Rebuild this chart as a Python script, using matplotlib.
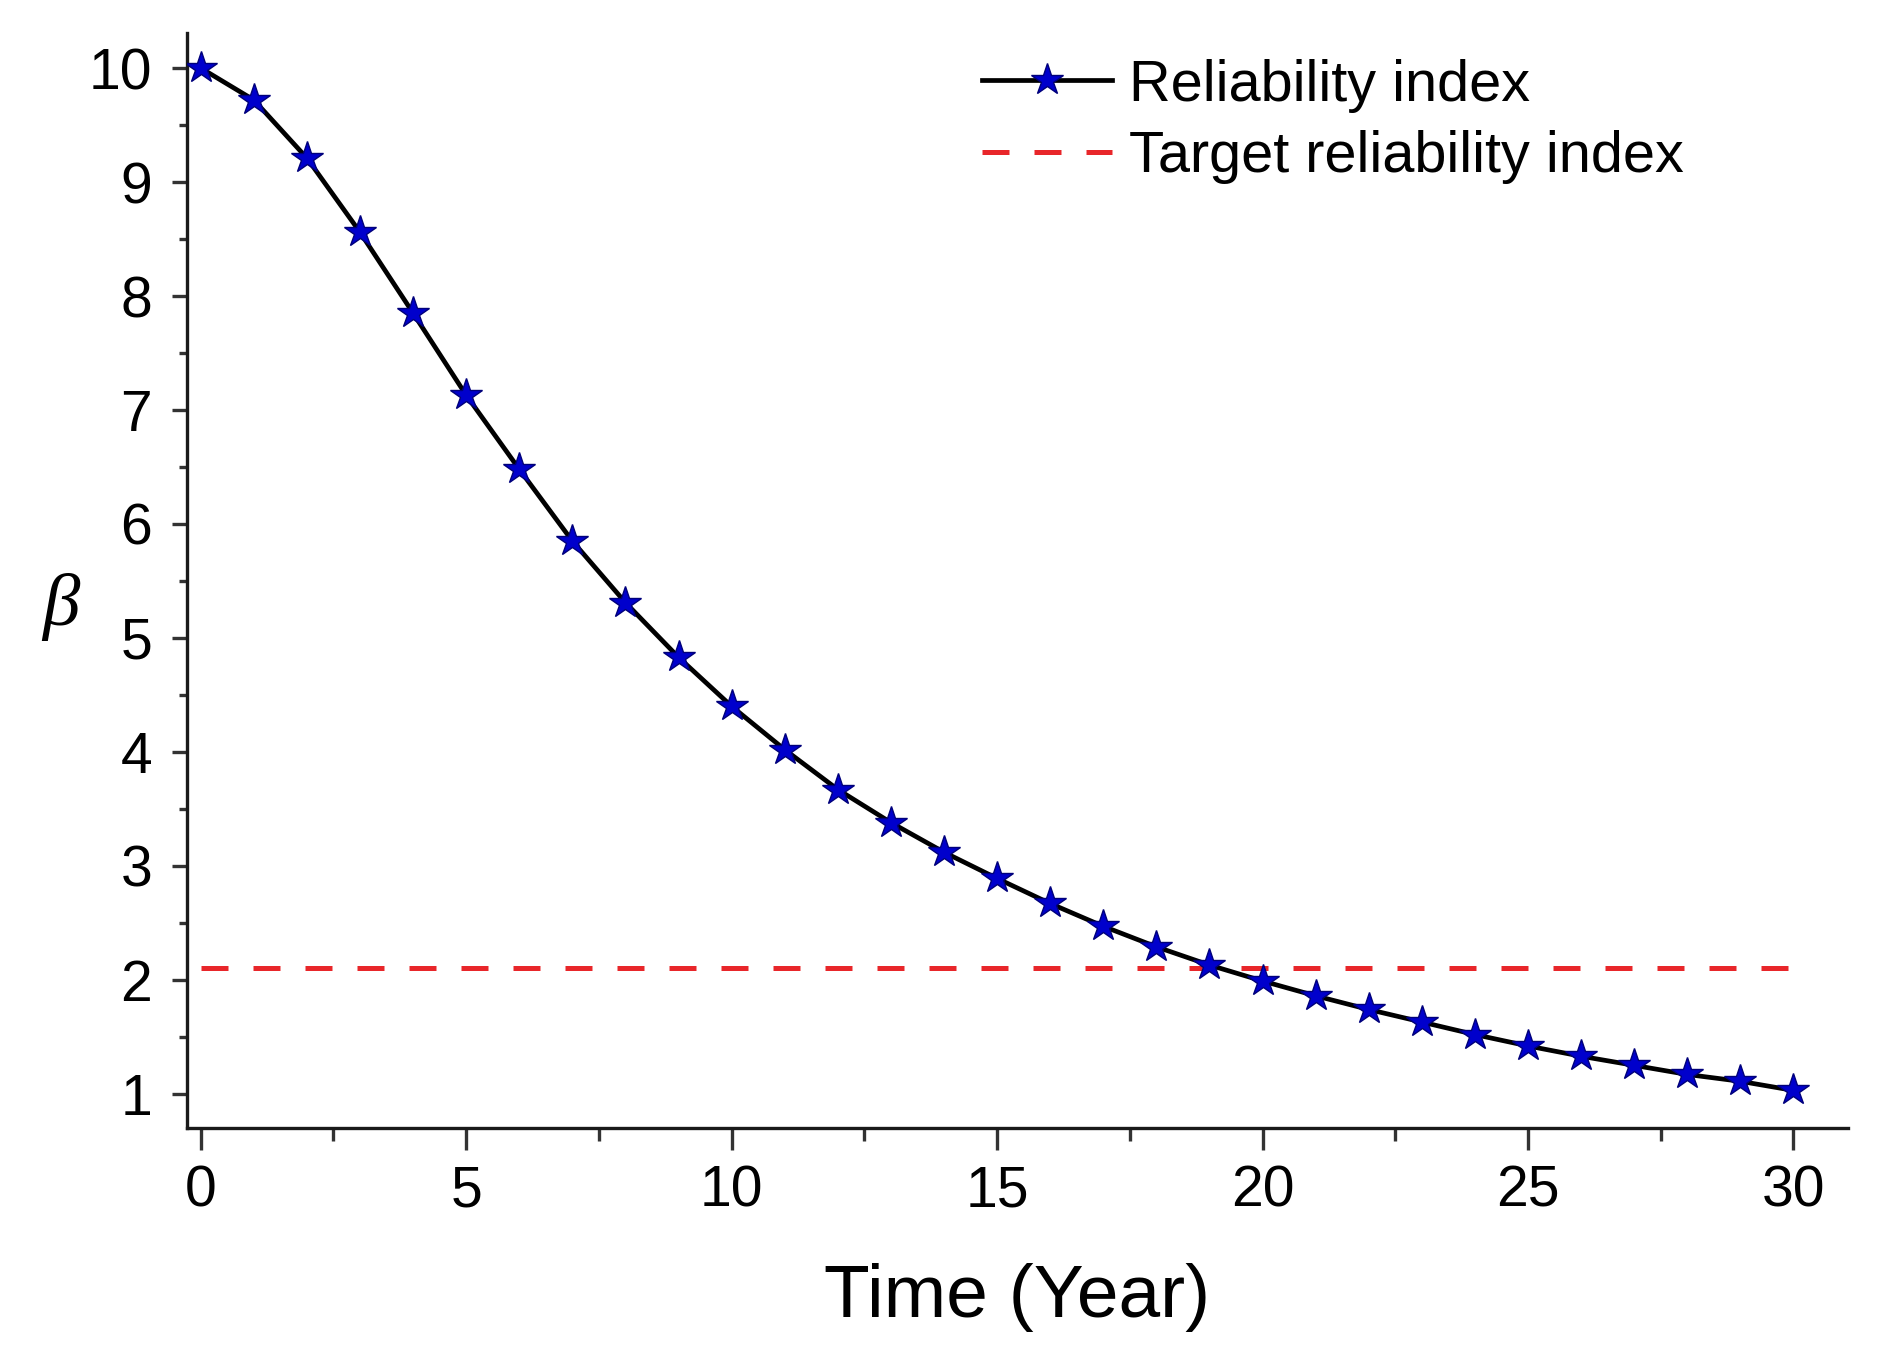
import matplotlib
matplotlib.use("Agg")
import matplotlib.pyplot as plt
from matplotlib.ticker import MultipleLocator

years = list(range(0, 31))
beta = [10.0, 9.72, 9.21, 8.56, 7.85, 7.13, 6.48, 5.85, 5.31, 4.83, 4.40,
        4.02, 3.67, 3.38, 3.12, 2.89, 2.67, 2.47, 2.29, 2.13, 1.99,
        1.86, 1.74, 1.63, 1.52, 1.42, 1.33, 1.25, 1.17, 1.11, 1.03]
target_x = [0, 30]
target_beta = [2.1, 2.1]
xticks = [0, 5, 10, 15, 20, 25, 30]
yticks = [1, 2, 3, 4, 5, 6, 7, 8, 9, 10]

plt.rcParams['font.family'] = ['Liberation Sans', 'DejaVu Sans']

fig = plt.figure(figsize=(18.92, 13.64), dpi=100)
ax = fig.add_axes([0.0988, 0.173, 0.878, 0.803])

ax.plot(years, beta, color='black', lw=3.4, marker='*', ms=24,
        mfc='#0000CC', mec='#00007A', mew=1.0, label='Reliability index', zorder=3)
ax.plot(target_x, target_beta, color='#E8262A', lw=3.6, dashes=(5.4, 5.0),
        label='Target reliability index', zorder=2)

ax.set_xlim(-0.26, 31.03)
ax.set_ylim(0.70, 10.31)
ax.set_xticks(xticks)
ax.set_yticks(yticks)
ax.xaxis.set_minor_locator(MultipleLocator(2.5))
ax.yaxis.set_minor_locator(MultipleLocator(0.5))

for s in ['top', 'right']:
    ax.spines[s].set_visible(False)
for s in ['left', 'bottom']:
    ax.spines[s].set_linewidth(2.4)
    ax.spines[s].set_color('#1a1a1a')

ax.tick_params(axis='both', which='major', direction='out', width=2.4,
               color='#333333', labelsize=41)
ax.tick_params(axis='y', which='major', length=11, pad=14)
ax.tick_params(axis='x', which='major', length=16, pad=10)
ax.tick_params(axis='y', which='minor', direction='out', width=2.4,
               color='#333333', length=6)
ax.tick_params(axis='x', which='minor', direction='out', width=2.4,
               color='#333333', length=9)

ax.set_xlabel('Time (Year)', fontsize=54, labelpad=32)
fig.text(0.032, 0.555, 'β', fontsize=54, family=['Liberation Serif', 'DejaVu Serif'],
         style='italic', ha='center', va='center')

leg = ax.legend(loc='upper left', bbox_to_anchor=(0.519, 0.957),
                bbox_transform=fig.transFigure, frameon=False, fontsize=41.5,
                handlelength=2.25, handletextpad=0.3, labelspacing=0.3,
                borderpad=0, borderaxespad=0)

fig.savefig('out.png', dpi=100, facecolor='white')
